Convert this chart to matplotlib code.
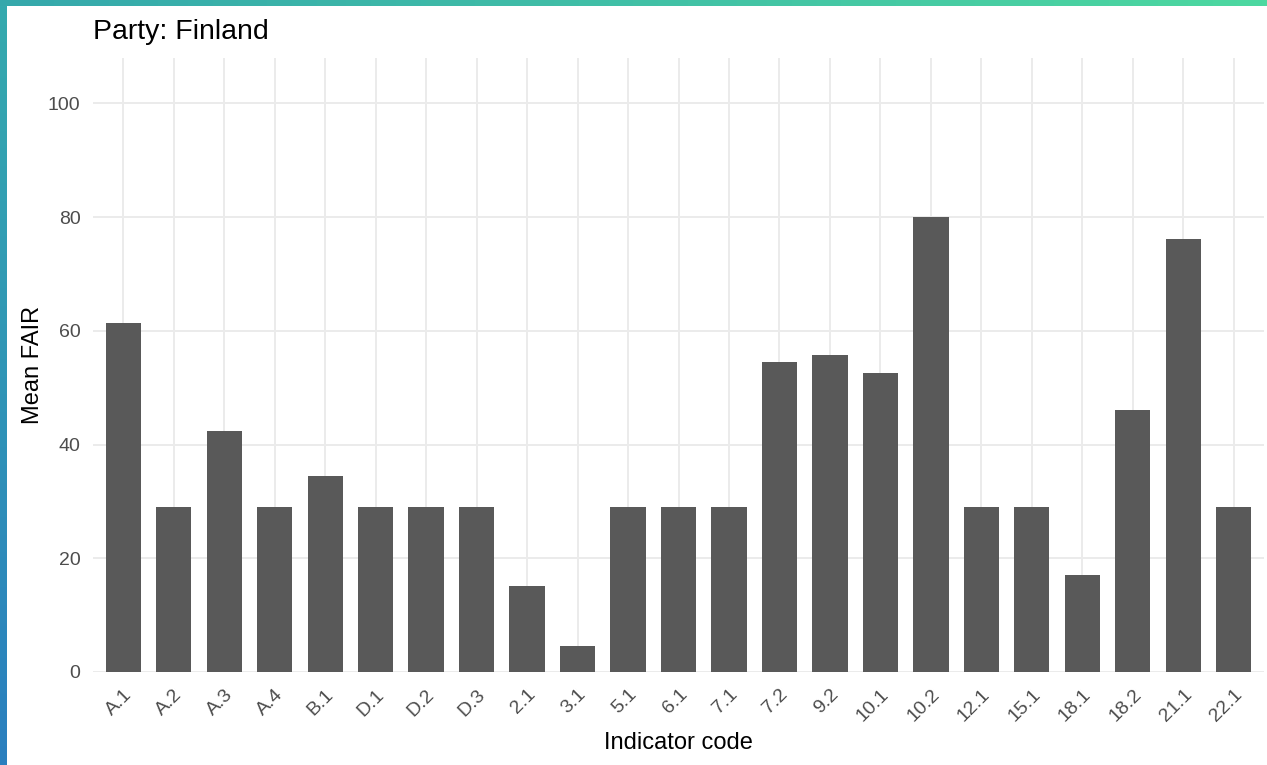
import matplotlib
matplotlib.use("Agg")
import matplotlib.pyplot as plt
import numpy as np
from matplotlib.colors import LinearSegmentedColormap

categories = ["A.1", "A.2", "A.3", "A.4", "B.1", "D.1", "D.2", "D.3", "2.1", "3.1",
              "5.1", "6.1", "7.1", "7.2", "9.2", "10.1", "10.2", "12.1", "15.1",
              "18.1", "18.2", "21.1", "22.1"]
values = [61.3, 29.0, 42.4, 29.0, 34.5, 29.0, 29.0, 29.0, 15.1, 4.6,
          29.0, 29.0, 29.0, 54.6, 55.8, 52.6, 80.0, 29.0, 29.0,
          17.1, 46.0, 76.1, 29.0]
yticks = [0, 20, 40, 60, 80, 100]

plt.rcParams['font.family'] = ['Liberation Sans', 'DejaVu Sans']

W, H = 1267, 765
fig = plt.figure(figsize=(W / 100, H / 100), dpi=100)

# gradient borders
top_ax = fig.add_axes([0, 1 - 6 / H, 1, 6 / H])
top_ax.imshow(np.linspace(0, 1, 256)[None, :], aspect='auto',
              cmap=LinearSegmentedColormap.from_list('t', ['#35a8ac', '#4dd8a0']))
top_ax.axis('off')
left_ax = fig.add_axes([0, 0, 6 / W, 1 - 6 / H])
left_ax.imshow(np.linspace(0, 1, 256)[:, None], aspect='auto',
               cmap=LinearSegmentedColormap.from_list('l', ['#35aaae', '#2a7fbf']))
left_ax.axis('off')

left, right, bottom, top = 93, 1264, 672, 58
ax = fig.add_axes([left / W, 1 - bottom / H, (right - left) / W, (bottom - top) / H])
x = np.arange(len(categories))
ax.bar(x, values, width=0.7, color='#595959', zorder=3)
ax.set_xlim(-0.6, len(categories) - 0.4)
ax.set_ylim(0, 108)
ax.set_yticks(yticks)
ax.set_xticks(x)
ax.set_xticklabels(categories, rotation=45, ha='right', rotation_mode='anchor')
ax.grid(True, color='#EBEBEB', linewidth=1.4, zorder=0)
for s in ax.spines.values():
    s.set_visible(False)
ax.tick_params(length=0, labelsize=14, labelcolor='#4D4D4D')
ax.tick_params(axis='y', pad=9)
ax.tick_params(axis='x', pad=10)
ax.set_ylabel("Mean FAIR", fontsize=17, color='black', labelpad=3)
ax.set_xlabel("Indicator code", fontsize=17, color='black', labelpad=5)

fig.text(93 / W, 1 - 32 / H, "Party: Finland", fontsize=20.5, color='black',
         ha='left', va='center')

fig.savefig("out.png", dpi=100)
